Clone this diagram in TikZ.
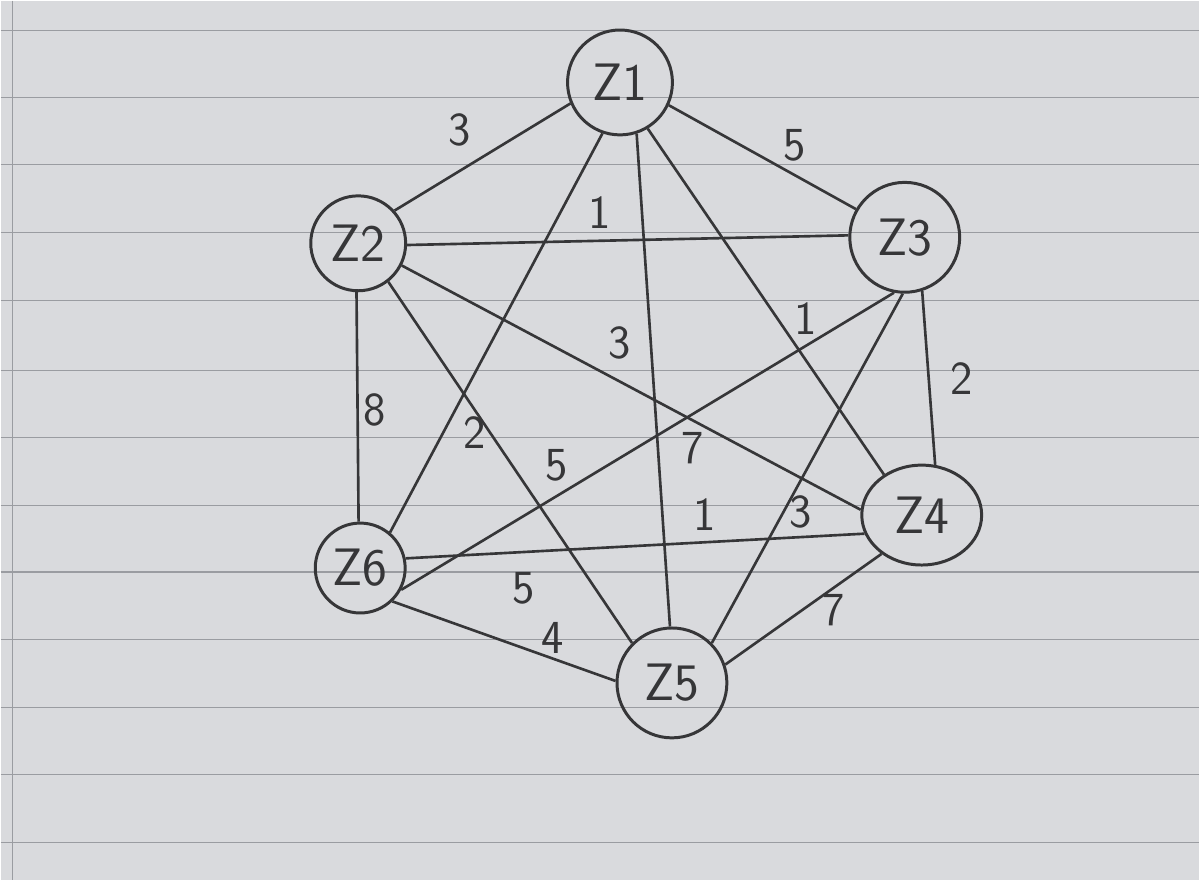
\documentclass[tikz,border=0pt]{standalone}
\usepackage{tikz}
\usetikzlibrary{shapes.geometric}
\definecolor{pencil}{HTML}{363638}
\definecolor{paper}{HTML}{D9DADD}
\definecolor{ruling}{HTML}{9A9CA1}

\begin{document}
\begin{tikzpicture}[
    x=0.02cm, y=-0.02cm,
    every node/.style={font=\sffamily},
    vertex/.style={circle, draw=pencil, line width=1.7pt, inner sep=0pt,
                   font=\fontsize{30}{32}\sffamily, text=pencil},
    edge/.style={line width=1.5pt, color=pencil},
    weight/.style={font=\fontsize{27}{29}\sffamily, text=pencil}
]

% Paper
\fill[paper] (0,0) rectangle (1200,880);
\foreach \y in {30,97,164,232,300,370,437,505,572,640,708,775,843}
    \draw[ruling, line width=0.6pt] (0,\y) -- (1200,\y);
\draw[ruling, line width=0.6pt] (12,0) -- (12,880);

% Vertices
\node[vertex, minimum size=2.1cm] (z1) at (620,82) {Z1};
\node[vertex, minimum size=1.9cm] (z2) at (358,243) {Z2};
\node[vertex, minimum size=2.2cm] (z3) at (905,237) {Z3};
\node[vertex, ellipse, minimum width=2.4cm, minimum height=2cm] (z4) at (922,515) {Z4};
\node[vertex, minimum size=2.2cm] (z5) at (672,683) {Z5};
\node[vertex, minimum size=1.8cm] (z6) at (360,568) {Z6};

% Edges (anchor angles follow the sketch)
\foreach \a/\b in {z1.-157/z2.42, z1.-25/z3.150, z1.-59/z4.133, z1.-72/z5.92,
                   z1.-109/z6.50, z2.-2/z3.178, z2.-27/z4.175, z2.-52/z5.135,
                   z2.-92/z6.92, z3.-72/z4.75, z3.-92/z5.45, z3.-101/z6.-28,
                   z4.-136/z5.19, z4.-162/z6.12, z5.178/z6.-46}
    \draw[edge] (\a) -- (\b);

% Weights
\node[weight] (w12) at (460,130) {3};
\node[weight] (w13) at (795,145) {5};
\node[weight] (w23) at (600,212) {1};
\node[weight] (w14) at (806,318) {1};
\node[weight] (w34) at (962,378) {2};
\node[weight] (w15) at (620,343) {3};
\node[weight] (w26) at (374,410) {8};
\node[weight] (w16) at (475,432) {2};
\node[weight] (w25) at (557,465) {5};
\node[weight] (w24) at (693,448) {7};
\node[weight] (w46) at (705,515) {1};
\node[weight] (w35) at (801,512) {3};
\node[weight] (w36) at (524,588) {5};
\node[weight] (w56) at (553,638) {4};
\node[weight] (w45) at (834,610) {7};

\end{tikzpicture}
\end{document}
